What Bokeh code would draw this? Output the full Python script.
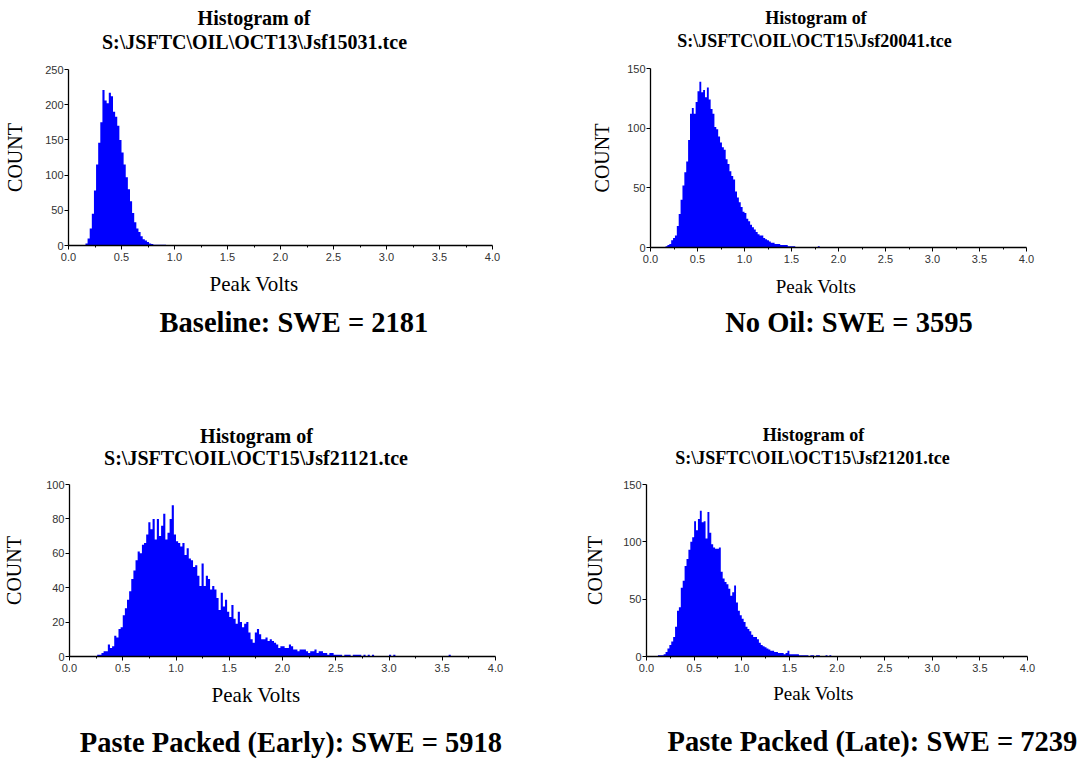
import numpy as np
from bokeh.plotting import figure
from bokeh.models import FixedTicker, Range1d, ColumnDataSource, PrintfTickFormatter
from bokeh.core.properties import value
from bokeh.layouts import column, row
from bokeh.embed import file_html
from bokeh.resources import INLINE

# ---------------- data ----------------
BIN_WIDTH = 0.02

baseline_start = 0.16
baseline_counts = [3, 10, 24, 45, 78, 115, 146, 175,
                   221, 206, 202, 217, 212, 190, 183, 170,
                   150, 132, 115, 97, 80, 63, 46, 33,
                   24, 19, 13, 9, 7, 5, 3, 2,
                   1, 1, 1, 1, 1, 1]

no_oil_start = 0.16
no_oil_counts = [1, 2, 3, 6, 8, 10, 18, 28, 40, 52,
                 63, 72, 90, 112, 117, 112, 122, 131, 139, 130,
                 132, 126, 134, 124, 116, 112, 101, 99, 93, 88,
                 84, 82, 74, 70, 64, 60, 57, 47, 42, 38,
                 34, 30, 29, 24, 22, 19, 17, 15, 13, 11,
                 10, 10, 8, 7, 6, 5, 4, 4, 3, 3,
                 3, 2, 2, 2, 2, 1, 1, 1, 1, 0,
                 0, 0, 0, 0, 0, 0, 0, 0, 0, 0,
                 0, 1]

early_start = 0.26
early_counts = [1, 1, 2, 3, 3, 7, 5, 6, 12, 11,
                16, 17, 24, 28, 33, 38, 45, 50, 56, 61,
                60, 65, 66, 71, 78, 74, 80, 68, 80, 70,
                76, 83, 68, 72, 80, 88, 71, 67, 66, 64,
                66, 59, 63, 57, 56, 52, 53, 47, 41, 54,
                41, 47, 45, 39, 41, 39, 34, 27, 37, 29,
                33, 26, 23, 30, 22, 19, 26, 20, 17, 19,
                20, 14, 10, 8, 14, 16, 13, 10, 10, 11,
                9, 10, 9, 8, 7, 5, 6, 6, 5, 5,
                7, 6, 4, 4, 3, 4, 4, 4, 3, 2,
                3, 3, 4, 2, 3, 3, 2, 2, 1, 2,
                2, 1, 1, 1, 1, 0, 1, 1, 1, 0,
                1, 1, 1, 1, 0, 1, 0, 1, 0, 1,
                0, 0, 0, 0, 0, 0, 0, 1, 0, 1,
                0, 0, 0, 0, 0, 0, 0, 0, 0, 0,
                0, 0, 0, 0, 0, 0, 0, 0, 0, 0,
                0, 0, 0, 0, 0, 1]

late_start = 0.12
late_counts = [1, 1, 1, 2, 4, 7, 10, 13, 17, 26,
               40, 43, 60, 66, 79, 85, 93, 100, 104, 118,
               110, 120, 127, 117, 118, 103, 126, 108, 98, 95,
               94, 94, 95, 74, 68, 65, 63, 59, 53, 56,
               62, 47, 40, 36, 33, 30, 26, 24, 22, 19,
               17, 17, 15, 12, 10, 9, 8, 7, 6, 5,
               5, 4, 4, 3, 3, 3, 2, 3, 5, 2,
               2, 2, 2, 2, 1, 1, 1, 1, 1, 0,
               1, 1, 0, 1, 1, 0, 0, 0, 1, 0,
               1]

title_line1 = "Histogram of"
title_paths = ["S:\\JSFTC\\OIL\\OCT13\\Jsf15031.tce",
               "S:\\JSFTC\\OIL\\OCT15\\Jsf20041.tce",
               "S:\\JSFTC\\OIL\\OCT15\\Jsf21121.tce",
               "S:\\JSFTC\\OIL\\OCT15\\Jsf21201.tce"]
captions = ["Baseline:  SWE = 2181",
            "No Oil:  SWE = 3595",
            "Paste Packed (Early):  SWE = 5918",
            "Paste Packed (Late):  SWE = 7239"]
x_label = "Peak Volts"
y_label = "COUNT"

x_ticks = [0.0, 0.5, 1.0, 1.5, 2.0, 2.5, 3.0, 3.5, 4.0]
x_minor_ticks = [0.25, 0.75, 1.25, 1.75, 2.25, 2.75, 3.25, 3.75]
y_max = [250, 150, 100, 150]
y_ticks = [[0, 50, 100, 150, 200, 250],
           [0, 50, 100, 150],
           [0, 20, 40, 60, 80, 100],
           [0, 50, 100, 150]]

starts = [baseline_start, no_oil_start, early_start, late_start]
counts_all = [baseline_counts, no_oil_counts, early_counts, late_counts]

# ---------------- layout (pixels) ----------------
PANELS = [
    dict(w=580, top=61, chart=206, bottom=153, l=68, r=492, ystand=16,
         title_size="20px", xl_size="21px", cap_size="28.5px"),
    dict(w=507, top=60, chart=209, bottom=151, l=70, r=446, ystand=11,
         title_size="18px", xl_size="19px", cap_size="28.5px"),
    dict(w=580, top=56, chart=202, bottom=80, l=69, r=495, ystand=18,
         title_size="20px", xl_size="21px", cap_size="28.5px"),
    dict(w=507, top=56, chart=202, bottom=80, l=66, r=447, ystand=14,
         title_size="18px", xl_size="19px", cap_size="28.5px"),
]
# text centres inside the strips (x, y from the strip's top-left)
TEXT_POS = [
    dict(hist=(253.5, 17), path=(254, 41), xl=(253.5, 16), cap=(297, 55)),
    dict(hist=(235.5, 17), path=(234, 40), xl=(235.5, 17), cap=(272, 53)),
    dict(hist=(256, 15), path=(255.5, 37), xl=(255.5, 16), cap=(294, 64)),
    dict(hist=(233, 14), path=(232, 37), xl=(233, 15), cap=(295.5, 63)),
]

SERIF = "Liberation Serif"
TICK_FONT = "Liberation Sans"
CHART_TOP = 8
CHART_BOTTOM = 22


def text_strip(w, h):
    p = figure(width=w, height=h, x_range=Range1d(0, w), y_range=Range1d(h, 0),
               x_axis_type=None, y_axis_type=None, output_backend="svg",
               toolbar_location=None, min_border=0,
               min_border_left=0, min_border_right=0, min_border_top=0, min_border_bottom=0,
               frame_align=False)
    p.outline_line_color = None
    p.grid.visible = False
    p.background_fill_color = "white"
    p.border_fill_color = "white"
    return p


def add_text(p, text, pos, size, style):
    p.text(x=[pos[0]], y=[pos[1]], text=[text], text_font=value(SERIF),
           text_font_size=value(size), text_font_style=style, text_color="#000000",
           text_align="center", text_baseline="middle")


def build(i):
    cfg = PANELS[i]
    w = cfg["w"]
    pos = TEXT_POS[i]

    top = text_strip(w, cfg["top"])
    add_text(top, title_line1, pos["hist"], cfg["title_size"], "bold")
    add_text(top, title_paths[i], pos["path"], cfg["title_size"], "bold")

    p = figure(width=w, height=cfg["chart"], x_range=Range1d(0, 4), y_range=Range1d(0, y_max[i]),
               output_backend="svg", toolbar_location=None, frame_align=False,
               min_border_left=cfg["l"], min_border_right=w - cfg["r"],
               min_border_top=CHART_TOP, min_border_bottom=CHART_BOTTOM)
    p.background_fill_color = "white"
    p.border_fill_color = "white"
    p.outline_line_color = None
    p.grid.visible = False

    counts = np.array(counts_all[i], dtype=float)
    left = starts[i] + BIN_WIDTH * np.arange(len(counts))
    right = left + BIN_WIDTH
    sx = np.column_stack([left, right]).ravel()
    sy = np.column_stack([counts, counts]).ravel()
    src = ColumnDataSource(dict(x=sx, y=sy))
    p.varea(x="x", y1=0, y2="y", source=src, fill_color="#0000FF")

    for ax in (p.xaxis[0], p.yaxis[0]):
        ax.axis_line_color = "black"
        ax.axis_line_width = 1.3
        ax.major_tick_line_color = "black"
        ax.major_tick_in = 0
        ax.major_tick_out = 4
        ax.major_label_text_font = TICK_FONT
        ax.major_label_text_font_size = "11px"
        ax.major_label_text_color = "#333333"

    xa = p.xaxis[0]
    xa.ticker = FixedTicker(ticks=x_ticks, minor_ticks=x_minor_ticks)
    xa.formatter = PrintfTickFormatter(format="%.1f")
    xa.minor_tick_line_color = "black"
    xa.minor_tick_in = 0
    xa.minor_tick_out = 2
    xa.major_label_standoff = 3

    ya = p.yaxis[0]
    ya.ticker = FixedTicker(ticks=y_ticks[i])
    ya.minor_tick_line_color = None
    ya.major_label_standoff = 1
    ya.axis_label = y_label
    ya.axis_label_text_font = SERIF
    ya.axis_label_text_font_size = "20px"
    ya.axis_label_text_font_style = "normal"
    ya.axis_label_text_color = "#000000"
    ya.axis_label_standoff = cfg["ystand"]

    bot = text_strip(w, cfg["bottom"])
    add_text(bot, x_label, pos["xl"], cfg["xl_size"], "normal")
    add_text(bot, captions[i], pos["cap"], cfg["cap_size"], "bold")

    return column(top, p, bot)


cols = [build(i) for i in range(4)]
layout = column(row(cols[0], cols[1]), row(cols[2], cols[3]))

open("out.html", "w").write(file_html(layout, INLINE))
